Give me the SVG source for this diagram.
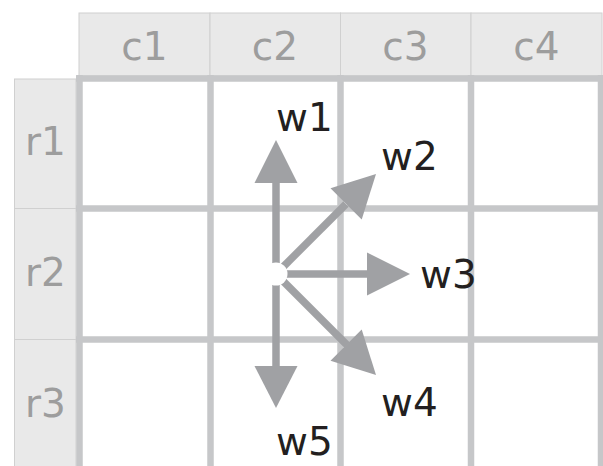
<svg xmlns="http://www.w3.org/2000/svg" width="603" height="466" viewBox="0 0 603 466">
  <defs>
    <style>
      .hdr { fill: #e9e9e9; stroke: #d0d0d0; stroke-width: 1; }
      .htxt { font-family: "DejaVu Sans", "Open Sans", sans-serif; font-size: 39px; fill: #9d9d9d; text-anchor: middle; }
      .grid { stroke: #c6c7c9; stroke-width: 6.5; fill: none; }
      .shaft { stroke: #a0a1a4; stroke-width: 7.5; fill: none; }
      .head { fill: #a0a1a4; }
      .wtxt { font-family: "DejaVu Sans", "Open Sans", sans-serif; font-size: 39px; fill: #231f20; }
    </style>
  </defs>
  <rect width="603" height="466" fill="#ffffff"/>

  <g id="col-headers">
    <rect class="hdr" x="79" y="13" width="131" height="63"/>
    <rect class="hdr" x="210" y="13" width="130.5" height="63"/>
    <rect class="hdr" x="340.5" y="13" width="130.5" height="63"/>
    <rect class="hdr" x="471" y="13" width="131" height="63"/>
    <text class="htxt" x="144.5" y="60">c1</text>
    <text class="htxt" x="275" y="60">c2</text>
    <text class="htxt" x="405.5" y="60">c3</text>
    <text class="htxt" x="536.5" y="60">c4</text>
  </g>

  <g id="row-headers">
    <rect class="hdr" x="14.5" y="79" width="61.5" height="129.5"/>
    <rect class="hdr" x="14.5" y="208.5" width="61.5" height="131"/>
    <rect class="hdr" x="14.5" y="339.5" width="61.5" height="130"/>
    <text class="htxt" x="45.5" y="155">r1</text>
    <text class="htxt" x="45.5" y="286">r2</text>
    <text class="htxt" x="45.5" y="417">r3</text>
  </g>

  <g id="grid">
    <line class="grid" x1="76" y1="78.5" x2="603" y2="78.5"/>
    <line class="grid" x1="76" y1="208.5" x2="603" y2="208.5"/>
    <line class="grid" x1="76" y1="339.5" x2="603" y2="339.5"/>
    <line class="grid" x1="79.5" y1="75" x2="79.5" y2="466"/>
    <line class="grid" x1="210.5" y1="75" x2="210.5" y2="466"/>
    <line class="grid" x1="340.5" y1="75" x2="340.5" y2="466"/>
    <line class="grid" x1="471" y1="75" x2="471" y2="466"/>
    <line class="grid" x1="601" y1="75" x2="601" y2="466"/>
  </g>

  <g id="connectors">
    <line class="shaft" x1="276" y1="274" x2="276" y2="180"/>
    <polygon class="head" points="276,140 297.5,183 254.5,183"/>
    <line class="shaft" x1="276" y1="274" x2="346" y2="204"/>
    <polygon class="head" points="376,174 361.7,219.5 330.5,188.3"/>
    <line class="shaft" x1="276" y1="274" x2="370" y2="274"/>
    <polygon class="head" points="410,274 367,295.5 367,252.5"/>
    <line class="shaft" x1="276" y1="274" x2="347" y2="345"/>
    <polygon class="head" points="376,375 330.5,360.7 361.7,329.5"/>
    <line class="shaft" x1="276" y1="274" x2="276" y2="370"/>
    <polygon class="head" points="276,408 297.5,366 254.5,366"/>
    <circle cx="276" cy="274" r="11.5" fill="#ffffff"/>
  </g>

  <g id="labels">
    <text id="w1" class="wtxt" x="276" y="131">w1</text>
    <text id="w2" class="wtxt" x="381" y="170">w2</text>
    <text id="w3" class="wtxt" x="420" y="288">w3</text>
    <text id="w4" class="wtxt" x="381" y="416">w4</text>
    <text id="w5" class="wtxt" x="276" y="455">w5</text>
  </g>
</svg>
